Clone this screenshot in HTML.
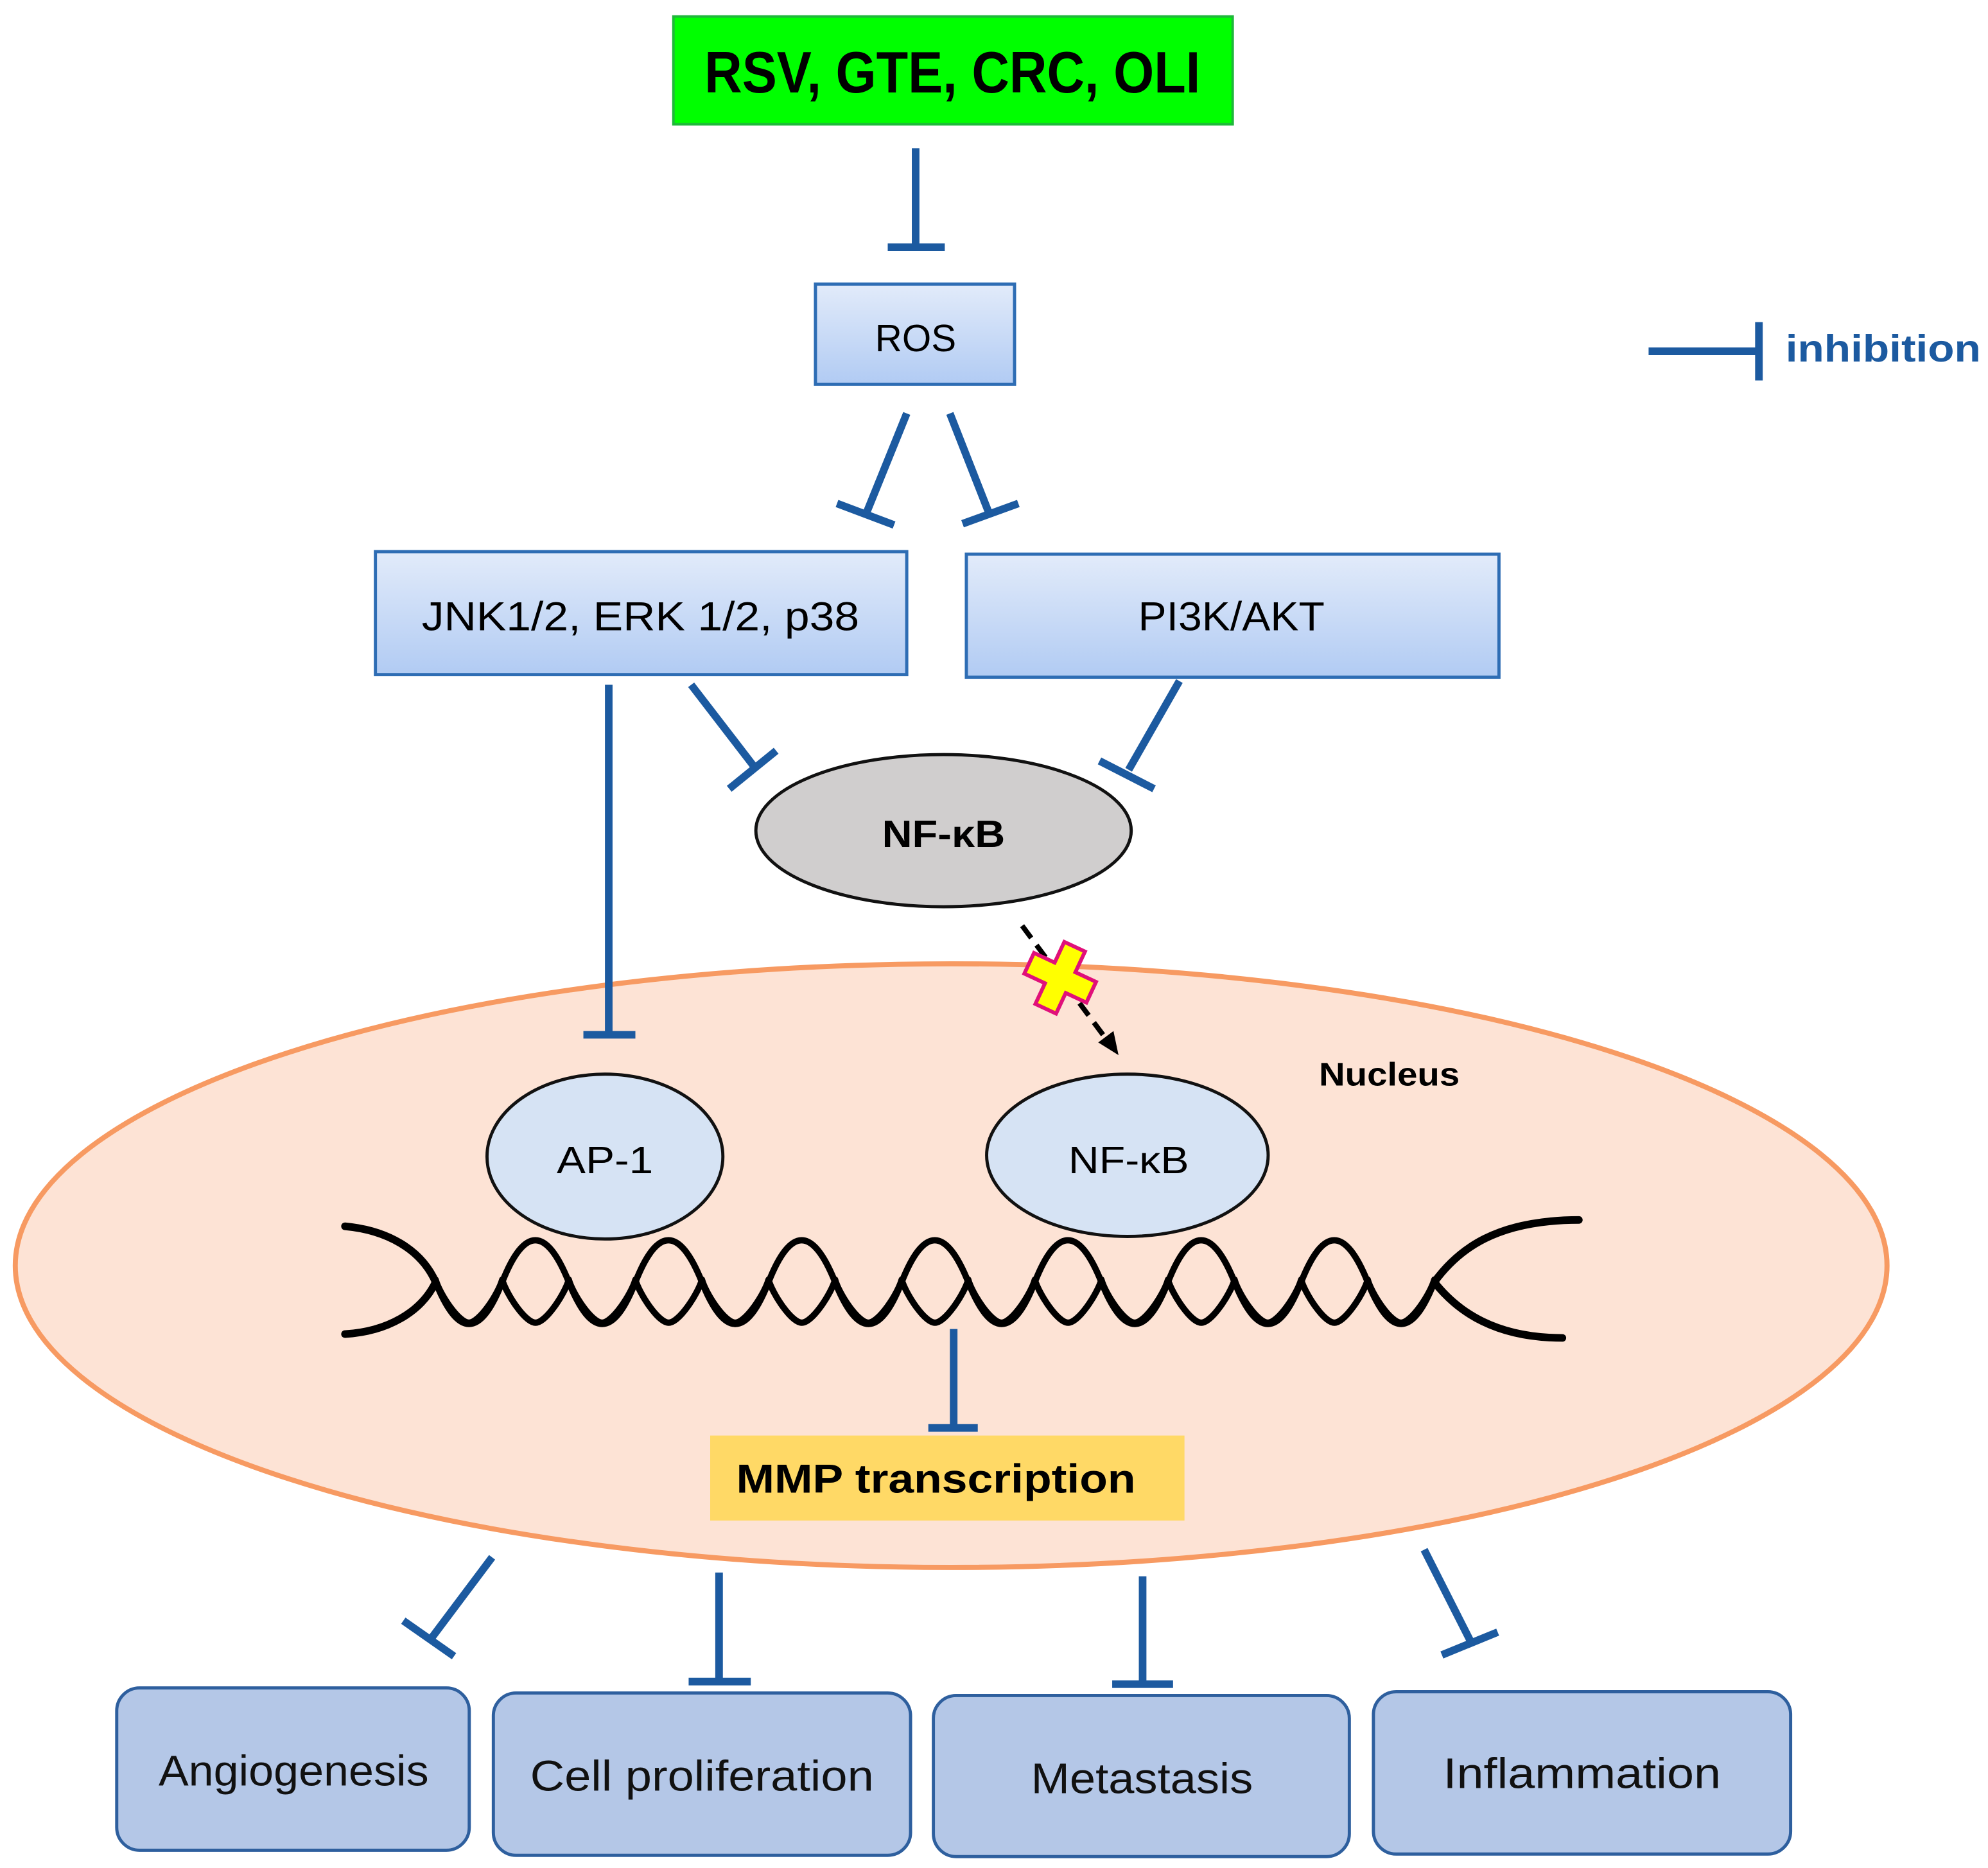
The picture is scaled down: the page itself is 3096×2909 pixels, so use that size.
<!DOCTYPE html>
<html><head><meta charset="utf-8"><style>
html,body{margin:0;padding:0;background:#fff;}
svg{display:block;}
text{font-family:"Liberation Sans",sans-serif;}
</style></head><body>
<svg width="3096" height="2909" viewBox="0 0 1567.6 1473" xmlns="http://www.w3.org/2000/svg">
<defs>
<linearGradient id="bg" x1="0" y1="0" x2="0" y2="1">
<stop offset="0" stop-color="#e2ebfa"/><stop offset="1" stop-color="#b1cbf3"/>
</linearGradient>
</defs>
<rect x="0" y="0" width="1567.6" height="1473" fill="#fff"/>

<ellipse cx="750" cy="998" rx="738" ry="238" fill="#fde3d5" stroke="#f79a62" stroke-width="4"/>
<text x="1040" y="856" font-size="26" font-weight="bold" textLength="111" lengthAdjust="spacingAndGlyphs">Nucleus</text>

<rect x="531" y="13" width="441" height="85" fill="#00ff00" stroke="#1fb83a" stroke-width="2"/>
<text x="751" y="73" font-size="46" font-weight="bold" text-anchor="middle" textLength="391" lengthAdjust="spacingAndGlyphs">RSV, GTE, CRC, OLI</text>

<g stroke="#1c5aa0" stroke-width="6" fill="none">
<line x1="722" y1="117" x2="722" y2="195"/>
<line x1="700" y1="195" x2="745" y2="195"/>
<line x1="1300" y1="277" x2="1387" y2="277"/>
<line x1="1387" y1="254" x2="1387" y2="300"/>
<line x1="715" y1="326" x2="683" y2="405"/>
<line x1="660" y1="397" x2="705" y2="414"/>
<line x1="749" y1="326" x2="780" y2="405"/>
<line x1="759" y1="413" x2="803" y2="397"/>
<line x1="480" y1="540" x2="480" y2="816"/>
<line x1="460" y1="816" x2="501" y2="816"/>
<line x1="545" y1="540" x2="595" y2="605"/>
<line x1="575" y1="622" x2="612" y2="592"/>
<line x1="930" y1="537" x2="890" y2="607"/>
<line x1="867" y1="600" x2="910" y2="622"/>
</g>
<text x="1408" y="285" font-size="30" font-weight="bold" fill="#1c5aa0" textLength="154" lengthAdjust="spacingAndGlyphs">inhibition</text>

<rect x="643" y="224" width="157" height="79" fill="url(#bg)" stroke="#2e6db4" stroke-width="2.5"/>
<text x="722" y="277" font-size="30" text-anchor="middle" textLength="64" lengthAdjust="spacingAndGlyphs">ROS</text>

<rect x="296" y="435" width="419" height="97" fill="url(#bg)" stroke="#2e6db4" stroke-width="2.5"/>
<text x="505" y="497" font-size="32" text-anchor="middle" textLength="345" lengthAdjust="spacingAndGlyphs">JNK1/2, ERK 1/2, p38</text>
<rect x="762" y="437" width="420" height="97" fill="url(#bg)" stroke="#2e6db4" stroke-width="2.5"/>
<text x="971" y="497" font-size="32" text-anchor="middle" textLength="147" lengthAdjust="spacingAndGlyphs">PI3K/AKT</text>

<ellipse cx="744" cy="655" rx="148" ry="60" fill="#d0cece" stroke="#111" stroke-width="2.5"/>
<text x="744" y="668" font-size="30" font-weight="bold" text-anchor="middle" textLength="97" lengthAdjust="spacingAndGlyphs">NF-κB</text>

<line x1="806" y1="730" x2="872" y2="819" stroke="#000" stroke-width="4" stroke-dasharray="12,7"/>
<polygon points="882,832 866,822 878,813" fill="#000"/>
<g transform="translate(836,771) rotate(25)">
<path d="M-9,-27 H9 V-9 H27 V9 H9 V27 H-9 V9 H-27 V-9 H-9 Z" fill="#ffff00" stroke="#e0107a" stroke-width="3"/>
</g>

<ellipse cx="477" cy="912" rx="93" ry="65" fill="#d6e3f4" stroke="#111" stroke-width="2.5"/>
<text x="477" y="925" font-size="30" text-anchor="middle" textLength="76" lengthAdjust="spacingAndGlyphs">AP-1</text>
<ellipse cx="889" cy="911" rx="111" ry="64" fill="#d6e3f4" stroke="#111" stroke-width="2.5"/>
<text x="890" y="925" font-size="30" text-anchor="middle" textLength="95" lengthAdjust="spacingAndGlyphs">NF-κB</text>

<g stroke="#000" stroke-width="5" fill="none" stroke-linecap="round" stroke-linejoin="round">
<path d="M343.5,1011 Q370,1077 396,1011 T448.5,1011 T501,1011 T553.5,1011 T606,1011 T658.5,1011 T711,1011 T763.5,1011 T816,1011 T868.5,1011 T921,1011 T973.5,1011 T1026,1011 T1078.5,1011 T1131,1011"/>
<path d="M343.5,1009 C346.5,1020 361.5,1043 369.75,1043 C378,1043 393,1020 396,1009
C399,1020 414,1043 422.25,1043 C430.5,1043 445.5,1020 448.5,1009
C451.5,1020 466.5,1043 474.75,1043 C483,1043 498,1020 501,1009
C504,1020 519,1043 527.25,1043 C535.5,1043 550.5,1020 553.5,1009
C556.5,1020 571.5,1043 579.75,1043 C588,1043 603,1020 606,1009
C609,1020 624,1043 632.25,1043 C640.5,1043 655.5,1020 658.5,1009
C661.5,1020 676.5,1043 684.75,1043 C693,1043 708,1020 711,1009
C714,1020 729,1043 737.25,1043 C745.5,1043 760.5,1020 763.5,1009
C766.5,1020 781.5,1043 789.75,1043 C798,1043 813,1020 816,1009
C819,1020 834,1043 842.25,1043 C850.5,1043 865.5,1020 868.5,1009
C871.5,1020 886.5,1043 894.75,1043 C903,1043 918,1020 921,1009
C924,1020 939,1043 947.25,1043 C955.5,1043 970.5,1020 973.5,1009
C976.5,1020 991.5,1043 999.75,1043 C1008,1043 1023,1020 1026,1009
C1029,1020 1044,1043 1052.25,1043 C1060.5,1043 1075.5,1020 1078.5,1009
C1081.5,1020 1096.5,1043 1104.75,1043 C1113,1043 1128,1020 1131,1009"/>
<path d="M272,967 C305,970 332,985 343.5,1011" stroke-width="6"/>
<path d="M272,1052 C305,1050 332,1035 343.5,1011" stroke-width="6"/>
<path d="M1131,1011 C1150,985 1180,962 1245,962" stroke-width="6"/>
<path d="M1131,1011 C1150,1035 1180,1055 1232,1055" stroke-width="6"/>
</g>

<g stroke="#1c5aa0" stroke-width="6" fill="none">
<line x1="752" y1="1048" x2="752" y2="1126"/>
<line x1="732" y1="1126" x2="771" y2="1126"/>
</g>
<rect x="560" y="1132" width="374" height="67" fill="#ffd966"/>
<text x="738" y="1177" font-size="32" font-weight="bold" text-anchor="middle" textLength="315" lengthAdjust="spacingAndGlyphs">MMP transcription</text>

<g stroke="#1c5aa0" stroke-width="6" fill="none">
<line x1="388" y1="1228" x2="340" y2="1292"/>
<line x1="318" y1="1278" x2="358" y2="1306"/>
<line x1="567" y1="1240" x2="567" y2="1326"/>
<line x1="543" y1="1326" x2="592" y2="1326"/>
<line x1="901" y1="1243" x2="901" y2="1328"/>
<line x1="877" y1="1328" x2="925" y2="1328"/>
<line x1="1123" y1="1222" x2="1160" y2="1295"/>
<line x1="1137" y1="1305" x2="1181" y2="1287"/>
</g>

<g fill="#b4c7e7" stroke="#2e5f9e" stroke-width="2.5">
<rect x="92" y="1331" width="278" height="128" rx="18"/>
<rect x="389" y="1335" width="329" height="128" rx="18"/>
<rect x="736" y="1337" width="328" height="127" rx="18"/>
<rect x="1083" y="1334" width="329" height="128" rx="18"/>
</g>
<g font-size="34" fill="#111">
<text x="125" y="1408" textLength="213" lengthAdjust="spacingAndGlyphs">Angiogenesis</text>
<text x="418" y="1412" textLength="271" lengthAdjust="spacingAndGlyphs">Cell proliferation</text>
<text x="813" y="1414" textLength="175" lengthAdjust="spacingAndGlyphs">Metastasis</text>
<text x="1138" y="1410" textLength="219" lengthAdjust="spacingAndGlyphs">Inflammation</text>
</g>
</svg>
</body></html>
